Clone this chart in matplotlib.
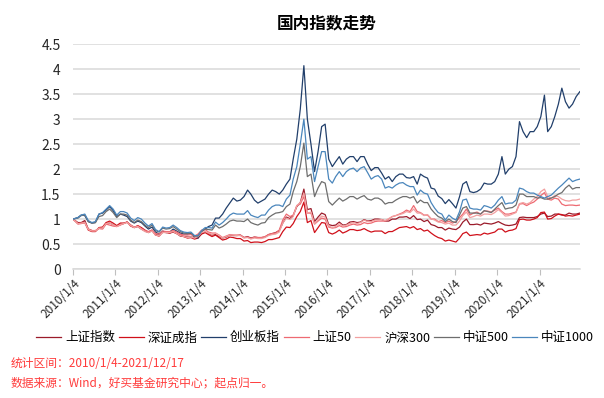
import numpy as np
import pandas as pd
import matplotlib
matplotlib.use('Agg')
import matplotlib.pyplot as plt

plt.rcParams['font.family'] = ['Noto Sans CJK SC', 'DejaVu Sans']

# monthly samples, 2010/1/4 .. 2021/12/17 (start = 1)
sh_comp = [1.00, 0.93, 0.93, 0.97, 0.80, 0.77, 0.76, 0.82, 0.82, 0.91, 0.92, 0.89,
           0.86, 0.89, 0.91, 0.94, 0.88, 0.83, 0.85, 0.80, 0.76, 0.73, 0.77, 0.69,
           0.68, 0.74, 0.74, 0.72, 0.74, 0.71, 0.66, 0.65, 0.64, 0.64, 0.63, 0.64,
           0.71, 0.74, 0.71, 0.68, 0.69, 0.65, 0.62, 0.64, 0.68, 0.67, 0.67, 0.68,
           0.63, 0.65, 0.62, 0.64, 0.63, 0.63, 0.64, 0.69, 0.71, 0.73, 0.77, 0.92,
           1.04, 1.01, 1.07, 1.25, 1.33, 1.60, 1.19, 1.21, 0.95, 1.04, 1.12, 1.09,
           0.89, 0.87, 0.88, 0.94, 0.88, 0.89, 0.94, 0.95, 0.93, 0.94, 0.99, 0.96,
           0.97, 1.00, 1.00, 0.99, 0.96, 0.96, 1.00, 1.00, 1.04, 1.04, 1.05, 1.01,
           1.07, 0.99, 1.00, 0.95, 0.98, 0.89, 0.87, 0.83, 0.83, 0.78, 0.82, 0.80,
           0.79, 0.84, 0.94, 1.00, 0.89, 0.89, 0.90, 0.88, 0.92, 0.91, 0.90, 0.92,
           0.95, 0.91, 0.88, 0.87, 0.88, 0.90, 1.03, 1.04, 1.03, 1.03, 1.03, 1.05,
           1.10, 1.12, 1.05, 1.06, 1.10, 1.10, 1.08, 1.08, 1.12, 1.10, 1.10, 1.12]

sz_comp = [1.00, 0.91, 0.92, 0.93, 0.78, 0.75, 0.75, 0.83, 0.84, 0.93, 0.96, 0.92,
           0.87, 0.92, 0.92, 0.94, 0.86, 0.83, 0.87, 0.83, 0.78, 0.74, 0.78, 0.68,
           0.66, 0.74, 0.73, 0.72, 0.75, 0.71, 0.68, 0.65, 0.62, 0.63, 0.60, 0.62,
           0.70, 0.73, 0.69, 0.65, 0.68, 0.63, 0.58, 0.60, 0.64, 0.63, 0.61, 0.61,
           0.56, 0.57, 0.53, 0.54, 0.54, 0.53, 0.55, 0.59, 0.59, 0.61, 0.63, 0.75,
           0.84, 0.83, 0.91, 1.05, 1.15, 1.34, 0.93, 0.97, 0.73, 0.83, 0.93, 0.92,
           0.73, 0.70, 0.73, 0.78, 0.72, 0.75, 0.79, 0.79, 0.77, 0.78, 0.81, 0.77,
           0.74, 0.76, 0.76, 0.76, 0.71, 0.75, 0.75, 0.79, 0.83, 0.84, 0.85, 0.82,
           0.85, 0.79, 0.81, 0.76, 0.78, 0.72, 0.67, 0.63, 0.61, 0.56, 0.58, 0.56,
           0.54, 0.62, 0.71, 0.74, 0.67, 0.68, 0.69, 0.68, 0.72, 0.70, 0.72, 0.74,
           0.80, 0.80, 0.74, 0.77, 0.78, 0.81, 0.99, 1.00, 0.98, 0.98, 1.00, 1.03,
           1.13, 1.14, 1.00, 1.01, 1.06, 1.10, 1.09, 1.06, 1.07, 1.06, 1.08, 1.10]

chinext = [1.00, 1.03, 1.08, 1.07, 0.95, 0.92, 0.93, 1.10, 1.12, 1.18, 1.25, 1.17,
           1.05, 1.10, 1.08, 1.05, 0.96, 0.92, 0.96, 0.93, 0.86, 0.80, 0.84, 0.74,
           0.70, 0.76, 0.73, 0.74, 0.80, 0.76, 0.72, 0.70, 0.70, 0.71, 0.64, 0.62,
           0.75, 0.80, 0.85, 0.88, 1.02, 1.02, 1.10, 1.22, 1.32, 1.42, 1.36, 1.38,
           1.45, 1.58, 1.50, 1.38, 1.32, 1.36, 1.40, 1.50, 1.58, 1.55, 1.50, 1.58,
           1.70, 1.80, 2.20, 2.60, 3.20, 4.07, 3.00, 2.50, 1.95, 2.35, 2.85, 2.90,
           2.20, 2.05, 2.15, 2.25, 2.10, 2.20, 2.25, 2.25, 2.15, 2.25, 2.25, 2.10,
           1.97, 2.03, 2.03, 1.92, 1.80, 1.85, 1.75, 1.85, 1.90, 1.90, 1.83, 1.82,
           1.85, 1.70, 1.90, 1.85, 1.82, 1.62, 1.60, 1.46, 1.41, 1.31, 1.39, 1.31,
           1.22, 1.45, 1.70, 1.75, 1.55, 1.53, 1.55, 1.60, 1.72, 1.70, 1.70, 1.75,
           1.90, 2.25, 1.90, 2.00, 2.05, 2.25, 2.95, 2.75, 2.63, 2.75, 2.75, 2.85,
           3.05, 3.48, 2.75, 2.85, 3.05, 3.30, 3.62, 3.35, 3.22, 3.30, 3.45, 3.55]

sse50 = [1.00, 0.90, 0.91, 0.93, 0.80, 0.77, 0.77, 0.81, 0.80, 0.90, 0.88, 0.86,
         0.85, 0.88, 0.91, 0.94, 0.88, 0.84, 0.86, 0.81, 0.77, 0.75, 0.78, 0.71,
         0.70, 0.76, 0.75, 0.75, 0.77, 0.74, 0.70, 0.68, 0.68, 0.69, 0.66, 0.70,
         0.78, 0.79, 0.74, 0.72, 0.72, 0.68, 0.63, 0.66, 0.69, 0.68, 0.68, 0.68,
         0.63, 0.64, 0.61, 0.64, 0.63, 0.63, 0.65, 0.69, 0.71, 0.72, 0.78, 0.98,
         1.10, 1.05, 1.08, 1.27, 1.30, 1.45, 1.12, 1.12, 0.90, 0.96, 1.02, 1.00,
         0.84, 0.82, 0.83, 0.87, 0.84, 0.85, 0.88, 0.90, 0.88, 0.89, 0.93, 0.91,
         0.92, 0.95, 0.96, 0.96, 0.96, 1.00, 1.05, 1.07, 1.10, 1.13, 1.18, 1.15,
         1.27, 1.15, 1.13, 1.08, 1.08, 1.00, 1.00, 0.95, 0.97, 0.93, 0.96, 0.92,
         0.95, 1.03, 1.10, 1.20, 1.08, 1.12, 1.14, 1.10, 1.16, 1.16, 1.14, 1.18,
         1.22, 1.15, 1.10, 1.10, 1.12, 1.14, 1.30, 1.31, 1.27, 1.31, 1.34, 1.40,
         1.47, 1.53, 1.40, 1.38, 1.42, 1.40, 1.30, 1.27, 1.28, 1.28, 1.27, 1.28]

hs300 = [1.00, 0.91, 0.92, 0.93, 0.79, 0.76, 0.76, 0.82, 0.82, 0.91, 0.92, 0.89,
         0.85, 0.89, 0.91, 0.93, 0.87, 0.83, 0.85, 0.80, 0.75, 0.73, 0.76, 0.68,
         0.67, 0.73, 0.73, 0.73, 0.75, 0.71, 0.67, 0.65, 0.63, 0.64, 0.62, 0.65,
         0.73, 0.75, 0.72, 0.69, 0.72, 0.67, 0.62, 0.65, 0.68, 0.68, 0.67, 0.67,
         0.62, 0.63, 0.60, 0.62, 0.61, 0.61, 0.63, 0.67, 0.69, 0.70, 0.74, 0.92,
         1.02, 0.99, 1.05, 1.27, 1.33, 1.52, 1.12, 1.14, 0.90, 0.99, 1.06, 1.04,
         0.86, 0.83, 0.85, 0.91, 0.86, 0.88, 0.91, 0.93, 0.91, 0.93, 0.98, 0.95,
         0.95, 0.98, 0.98, 0.99, 0.97, 1.01, 1.05, 1.07, 1.09, 1.11, 1.15, 1.13,
         1.20, 1.12, 1.12, 1.07, 1.09, 1.01, 0.98, 0.94, 0.93, 0.90, 0.92, 0.88,
         0.88, 0.96, 1.07, 1.14, 1.03, 1.05, 1.08, 1.06, 1.10, 1.10, 1.09, 1.13,
         1.19, 1.13, 1.06, 1.07, 1.10, 1.13, 1.31, 1.33, 1.30, 1.33, 1.40, 1.45,
         1.55, 1.60, 1.45, 1.42, 1.47, 1.45, 1.40, 1.37, 1.36, 1.38, 1.38, 1.40]

csi500 = [1.00, 1.02, 1.07, 1.08, 0.95, 0.92, 0.93, 1.05, 1.07, 1.15, 1.20, 1.13,
          1.03, 1.10, 1.10, 1.08, 0.98, 0.93, 0.98, 0.95, 0.88, 0.83, 0.88, 0.77,
          0.74, 0.82, 0.80, 0.81, 0.85, 0.80, 0.75, 0.72, 0.71, 0.72, 0.66, 0.66,
          0.76, 0.80, 0.79, 0.78, 0.88, 0.82, 0.85, 0.90, 0.96, 0.98, 0.96, 0.96,
          0.95, 1.00, 0.93, 0.90, 0.88, 0.92, 0.93, 1.03, 1.08, 1.12, 1.13, 1.15,
          1.25, 1.30, 1.55, 1.75, 2.05, 2.52, 1.85, 1.90, 1.45, 1.62, 1.75, 1.72,
          1.35, 1.28, 1.35, 1.42, 1.36, 1.40, 1.45, 1.45, 1.40, 1.44, 1.47, 1.40,
          1.38, 1.42, 1.42, 1.38, 1.30, 1.33, 1.33, 1.38, 1.42, 1.45, 1.45, 1.42,
          1.45, 1.32, 1.38, 1.33, 1.33, 1.20, 1.12, 1.05, 1.02, 0.95, 1.00, 0.95,
          0.93, 1.08, 1.22, 1.25, 1.12, 1.12, 1.12, 1.10, 1.17, 1.15, 1.13, 1.20,
          1.27, 1.33, 1.20, 1.22, 1.23, 1.28, 1.50, 1.50, 1.45, 1.45, 1.45, 1.42,
          1.43, 1.40, 1.40, 1.42, 1.45, 1.50, 1.53, 1.62, 1.68, 1.60, 1.63, 1.63]

csi1000 = [1.00, 1.03, 1.08, 1.10, 0.97, 0.93, 0.95, 1.10, 1.13, 1.20, 1.27, 1.20,
           1.08, 1.15, 1.15, 1.12, 1.02, 0.97, 1.03, 1.00, 0.92, 0.86, 0.91, 0.79,
           0.75, 0.84, 0.82, 0.83, 0.88, 0.83, 0.77, 0.74, 0.73, 0.74, 0.67, 0.67,
           0.77, 0.83, 0.83, 0.82, 0.94, 0.88, 0.93, 1.00, 1.08, 1.12, 1.10, 1.10,
           1.10, 1.17, 1.08, 1.05, 1.03, 1.08, 1.08, 1.18, 1.25, 1.28, 1.28, 1.25,
           1.40, 1.48, 1.80, 2.05, 2.50, 3.00, 2.20, 2.25, 1.75, 2.05, 2.35, 2.35,
           1.80, 1.72, 1.85, 1.95, 1.85, 1.95, 2.00, 2.02, 1.95, 2.02, 2.05, 1.93,
           1.80, 1.85, 1.87, 1.80, 1.62, 1.65, 1.62, 1.68, 1.72, 1.73, 1.68, 1.65,
           1.65, 1.48, 1.58, 1.52, 1.50, 1.33, 1.22, 1.13, 1.10, 0.98, 1.08, 1.02,
           0.98, 1.15, 1.38, 1.40, 1.22, 1.20, 1.20, 1.18, 1.27, 1.25, 1.22, 1.28,
           1.38, 1.45, 1.30, 1.32, 1.32, 1.38, 1.62, 1.60, 1.55, 1.52, 1.52, 1.48,
           1.45, 1.42, 1.45, 1.48, 1.55, 1.62, 1.68, 1.75, 1.82, 1.75, 1.78, 1.80]

labels = ['上证指数', '深证成指', '创业板指', '上证50', '沪深300', '中证500', '中证1000']
colors = ['#9B1B2A', '#D0101A', '#213F6B', '#EE6A72', '#F2A0A0', '#6E6E6E', '#4A86BC']
series = [sh_comp, sz_comp, chinext, sse50, hs300, csi500, csi1000]

dates = pd.date_range('2010-01-01', '2021-12-01', freq='MS') + pd.Timedelta(days=14)
dates = dates.tolist()
dates[0] = pd.Timestamp('2010-01-04')
dates[-1] = pd.Timestamp('2021-12-17')

tick_dates = [pd.Timestamp('%d-01-04' % y) for y in range(2010, 2022)]
tick_labels = ['%d/1/4' % y for y in range(2010, 2022)]

fig = plt.figure(figsize=(6.04, 3.98), dpi=100)
ax = fig.add_axes([0.121, 0.324, 0.839, 0.565])

for vals, lab, col in zip(series, labels, colors):
    ax.plot(dates, vals, color=col, lw=0.9, label=lab)

ax.set_ylim(0, 4.5)
ax.set_yticks(np.arange(0, 4.51, 0.5))
ax.set_yticklabels(['0', '0.5', '1', '1.5', '2', '2.5', '3', '3.5', '4', '4.5'], fontsize=10, color='#262626')
ax.set_xlim(pd.Timestamp('2010-01-04'), pd.Timestamp('2021-12-17'))
ax.set_xticks(tick_dates)
ax.set_xticklabels(tick_labels, rotation=45, ha='right', rotation_mode='anchor', fontsize=8.5, color='#262626')

ax.grid(axis='y', color='#D9D9D9', lw=1.1)
ax.set_axisbelow(True)
for s in ['top', 'right', 'left']:
    ax.spines[s].set_visible(False)
ax.spines['bottom'].set_color('#D9D9D9')
ax.spines['bottom'].set_linewidth(1.1)
ax.tick_params(axis='x', length=4, color='#BFBFBF', pad=2)
ax.tick_params(axis='y', length=0, pad=9)

fig.text(0.54, 0.94, '国内指数走势', ha='center', va='center', fontsize=12, fontweight='bold')

fig.legend(loc='center', bbox_to_anchor=(0.522, 0.151), ncol=7, frameon=False, fontsize=9,
           handlelength=2.0, handletextpad=0.3, columnspacing=0.3, borderaxespad=0)

fig.text(0.017, 0.086, '统计区间：2010/1/4-2021/12/17', color='#FF3B3B', fontsize=8.5, va='center')
fig.text(0.017, 0.039, '数据来源：Wind，好买基金研究中心；起点归一。', color='#FF3B3B', fontsize=8.5, va='center')

fig.savefig('out.png', dpi=100)
